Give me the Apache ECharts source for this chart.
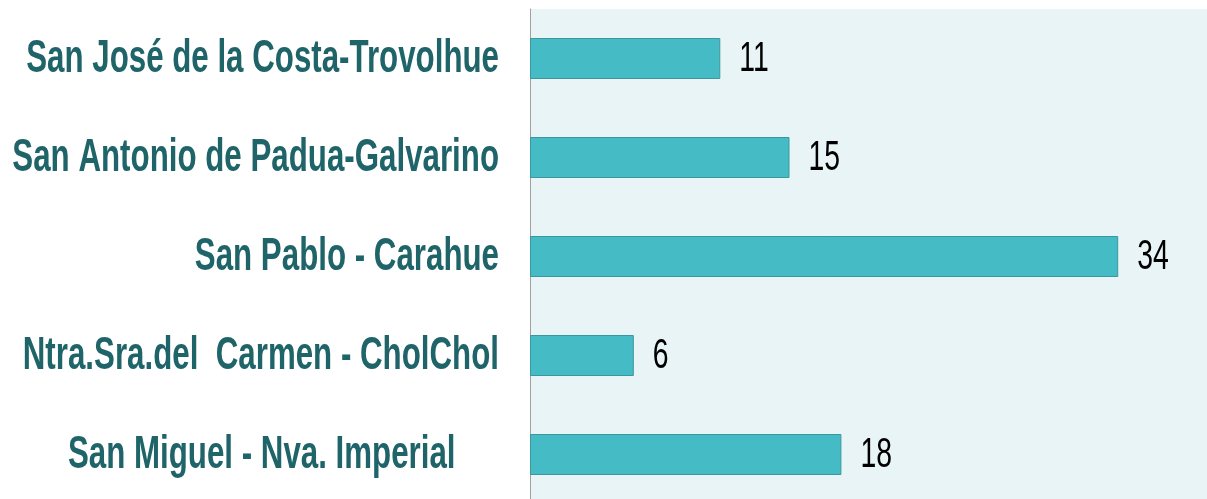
<!DOCTYPE html>
<html>
<head>
<meta charset="utf-8">
<style>
  html, body { margin: 0; padding: 0; background: #ffffff; }
  #chart { width: 1207px; height: 499px; }
</style>
<script src="https://cdn.jsdelivr.net/npm/echarts@6/dist/echarts.min.js"></script>
</head>
<body>
<div id="chart"></div>
<script>
// parroquias (de abajo hacia arriba, como las dibuja el eje de categorías)
var parroquias = [
    'San Miguel - Nva. Imperial     ',
    'Ntra.Sra.del  Carmen - CholChol',
    'San Pablo - Carahue',
    'San Antonio de Padua-Galvarino',
    'San José de la Costa-Trovolhue'
];
var cantidades = [18, 6, 34, 15, 11];

// el original usa una letra estrecha (tipo Arial Narrow): se simula comprimiendo en X
var fuente = '"Liberation Sans", Arial, sans-serif';

var myChart = echarts.init(document.getElementById('chart'));
var option = {
    animation: false,
    grid: {
        left: 530,
        top: 9,
        width: 692,
        height: 495,
        outerBoundsMode: 'none',
        show: true,
        backgroundColor: '#e8f4f5',
        borderWidth: 0
    },
    xAxis: {
        type: 'value',
        min: 0,
        max: 40,
        show: false
    },
    yAxis: {
        type: 'category',
        data: parroquias,
        axisLine: { show: true, lineStyle: { color: '#a0a0a0', width: 1 } },
        axisTick: { show: false },
        axisLabel: { show: false }
    },
    series: [{
        type: 'bar',
        data: cantidades,
        barWidth: 41,
        itemStyle: {
            color: '#45bbc6',
            borderColor: '#3c979d',
            borderWidth: 1
        }
    }, {
        // etiquetas de categoría y de valor, ubicadas con las escalas del gráfico
        type: 'custom',
        data: cantidades.map(function (v, i) { return [v, i]; }),
        encode: { x: 0, y: 1 },
        z: 5,
        renderItem: function (params, api) {
            var idx = api.value(1);
            var fin = api.coord([api.value(0), idx]);
            var x0 = params.coordSys.x;
            return {
                type: 'group',
                children: [{
                    type: 'text',
                    x: x0 - 31,
                    y: fin[1] + 1,
                    scaleX: 0.68,
                    style: {
                        text: parroquias[idx],
                        fill: '#1f6469',
                        font: 'bold 46px ' + fuente,
                        align: 'right',
                        verticalAlign: 'middle'
                    }
                }, {
                    type: 'text',
                    x: fin[0] + 19,
                    y: fin[1] + 1,
                    scaleX: 0.66,
                    style: {
                        text: String(api.value(0)),
                        fill: '#000000',
                        font: '43px ' + fuente,
                        align: 'left',
                        verticalAlign: 'middle'
                    }
                }]
            };
        }
    }]
};
myChart.setOption(option);
window.addEventListener('resize', function () {
    myChart.resize();
});
</script>
</body>
</html>
